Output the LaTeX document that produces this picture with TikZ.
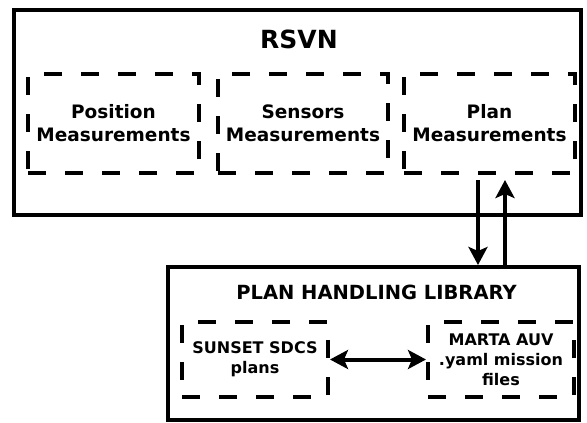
\documentclass[tikz,border=0pt]{standalone}
\usepackage{fontspec}
\setmainfont{DejaVu Sans}
\usetikzlibrary{arrows.meta}
\begin{document}
\begin{tikzpicture}[x=1pt,y=-1pt,line width=4pt,font=\bfseries,
	>={Stealth[length=18pt,width=19pt,inset=4pt]},
	outerbox/.style={draw,minimum width=#1},
	partbox/.style={draw,dash pattern=on 18pt off 19pt,align=center,inner sep=0pt}]
	\useasboundingbox(0,0)rectangle(587,423);
	% RSVN
	\node[outerbox=567pt,minimum height=205pt](rsvn)at(297.5,112.5){};
	\node[font=\fontsize{25}{30}\bfseries\selectfont](rsvntitle)at(299,39){RSVN};
	\tikzset{every node/.append style={font=\fontsize{18.5}{23}\bfseries\selectfont}}
	\node[partbox,minimum width=171pt,minimum height=99pt](pos)at(113.5,123.5){Position\\Measurements};
	\node[partbox,minimum width=170pt,minimum height=99pt](sens)at(303,123.5){Sensors\\Measurements};
	\node[partbox,minimum width=171pt,minimum height=99pt](plan)at(489.5,123.5){Plan\\Measurements};
	% plan handling library
	\node[outerbox=411pt,minimum height=153pt](phl)at(373.5,343.5){};
	\node[font=\fontsize{19.5}{23}\bfseries\selectfont](phltitle)at(376.5,292){PLAN HANDLING LIBRARY};
	\tikzset{every node/.append style={font=\fontsize{16}{20}\bfseries\selectfont}}
	\node[partbox,minimum width=146pt,minimum height=75pt](sunset)at(255,359.5){SUNSET SDCS\\plans};
	\node[partbox,minimum width=146pt,minimum height=75pt](marta)at(501,359.5){MARTA AUV\\.yaml mission\\files};
	% links
	\draw[->]([shift={(-11.5,5)}]plan.south)--([xshift=-11.5pt]plan.south|-phl.north);
	\draw[->]([xshift=15.5pt]plan.south|-phl.north)--([shift={(15.5,5)}]plan.south);
	\draw[<->](sunset)--(marta);
\end{tikzpicture}
\end{document}
